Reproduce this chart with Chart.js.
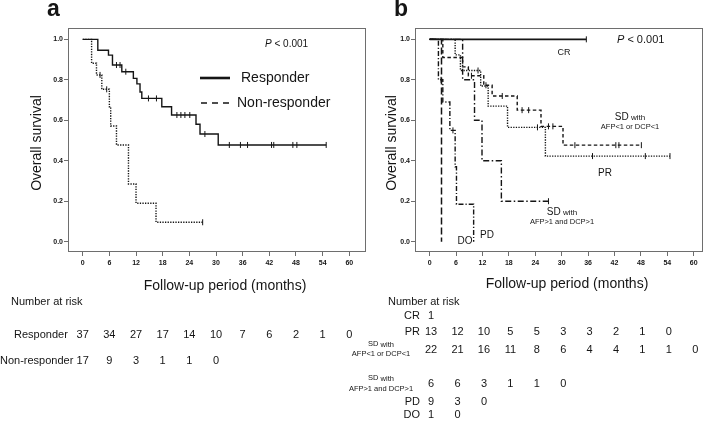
<!DOCTYPE html>
<html><head><meta charset="utf-8">
<script src="https://cdn.jsdelivr.net/npm/chart.js@4.4.1/dist/chart.umd.min.js"></script>
<style>
html,body{margin:0;padding:0;background:#fff;width:707px;height:431px;overflow:hidden;}
canvas{position:absolute;left:0;top:0;}
</style></head><body>
<canvas id="ca" width="707" height="431"></canvas>
<canvas id="cb" width="707" height="431"></canvas>
<script>
// ---------- data ----------
const tickMonths = [0, 6, 12, 18, 24, 30, 36, 42, 48, 54, 60];
const survTicks = [0, 0.2, 0.4, 0.6, 0.8, 1.0];

// Panel a
const respT = [0, 3.4, 5.8, 6.7, 8.8, 11.4, 12.2, 12.9, 13.3, 17.8, 20.0, 25.5, 26.4, 30.5, 54.8];
const respS = [1, 0.946, 0.922, 0.873, 0.84, 0.807, 0.78, 0.74, 0.708, 0.667, 0.626, 0.58, 0.532, 0.478, 0.478];
const respCens = [7.6, 8.4, 9.7, 14.8, 16.6, 21.2, 22.1, 23.0, 24.1, 27.5, 33, 35.5, 37.1, 42.5, 43, 47.3, 48.2, 54.8];
const nonT = [0, 2.0, 3.1, 4.3, 6.0, 6.3, 7.6, 10.3, 12.0, 16.5, 27.0];
const nonS = [1, 0.882, 0.824, 0.753, 0.667, 0.572, 0.478, 0.285, 0.19, 0.096, 0.096];
const nonCens = [3.9, 5.4, 27.0];

// Panel b
const crT = [0, 35.6];
const crS = [1, 1];
const crCens = [35.6];
const prT = [0, 5.8, 7.0, 11.6, 13.3, 17.7, 26.3, 54.6];
const prS = [1, 0.923, 0.846, 0.769, 0.67, 0.565, 0.423, 0.423];
const prCens = [11.0, 24.5, 37, 49, 54.6];
const sdLowT = [0, 3.0, 7.5, 8.8, 12.3, 14.2, 19.9, 25.3, 30.3, 48.1];
const sdLowS = [1, 0.91, 0.864, 0.82, 0.773, 0.72, 0.65, 0.57, 0.477, 0.477];
const sdLowCens = [9.5, 12.8, 16.5, 21, 22.5, 27, 28, 33, 42.3, 43, 48.1];
const sdHighT = [0, 7.5, 10.2, 11.9, 16.3, 27.0];
const sdHighS = [1, 0.8, 0.6, 0.4, 0.2, 0.2];
const sdHighCens = [27.0];
const pdT = [0, 2.0, 3.0, 4.6, 5.8, 6.1, 10.0];
const pdS = [1, 0.8, 0.69, 0.55, 0.37, 0.185, 0];
const pdCens = [2.6, 5.3];
const doT = [0, 2.7];
const doS = [1, 0];

// Numbers at risk
const riskResponder = [37, 34, 27, 17, 14, 10, 7, 6, 2, 1, 0];
const riskNonResponder = [17, 9, 3, 1, 1, 0];
const riskCR = [1];
const riskPR = [13, 12, 10, 5, 5, 3, 3, 2, 1, 0];
const riskSDLow = [22, 21, 16, 11, 8, 6, 4, 4, 1, 1, 0];
const riskSDHigh = [6, 6, 3, 1, 1, 0];
const riskPD = [9, 3, 0];
const riskDO = [1, 0];

// ---------- helpers ----------
const F = "'Liberation Sans', Arial, Helvetica, sans-serif";
const INK = '#151515';
const FRAME = '#6e6e6e';

function curve(t, s) { return t.map((v, i) => ({x: v, y: s[i]})); }
function censPts(t, s, c) {
  return c.map(ct => {
    let k = 0;
    for (let i = 0; i < t.length; i++) if (t[i] <= ct) k = i;
    return {x: ct, y: s[k]};
  });
}
function lineDs(t, s, dash, w) {
  return {data: curve(t, s), stepped: true, borderColor: INK, borderWidth: w || 1.4,
    borderDash: dash || [], pointRadius: 0, fill: false, tension: 0};
}
function censDs(t, s, c) {
  return {data: censPts(t, s, c), showLine: false, pointStyle: 'line', rotation: 90,
    pointRadius: 3, borderColor: INK, borderWidth: 1, pointHoverRadius: 0};
}
function text(ctx, s, x, y, size, align, opt) {
  opt = opt || {};
  ctx.save();
  ctx.fillStyle = INK;
  ctx.font = (opt.style ? opt.style + ' ' : '') + (opt.weight ? opt.weight + ' ' : '') + size + 'px ' + F;
  ctx.textAlign = align || 'left';
  ctx.textBaseline = opt.baseline || 'middle';
  ctx.fillText(s, x, y);
  ctx.restore();
}
function pval(ctx, x, y, size) {
  ctx.save();
  ctx.fillStyle = INK; ctx.textBaseline = 'middle'; ctx.textAlign = 'left';
  ctx.font = 'italic ' + size + 'px ' + F;
  ctx.fillText('P', x, y);
  const w = ctx.measureText('P').width;
  ctx.font = size + 'px ' + F;
  ctx.fillText(' < 0.001', x + w, y);
  ctx.restore();
}
function sdWith(ctx, cx, y, big, small) {
  ctx.save();
  ctx.fillStyle = INK; ctx.textBaseline = 'middle'; ctx.textAlign = 'left';
  ctx.font = big + 'px ' + F; const w1 = ctx.measureText('SD').width;
  ctx.font = small + 'px ' + F; const w2 = ctx.measureText(' with').width;
  const x0 = cx - (w1 + w2) / 2;
  ctx.font = big + 'px ' + F; ctx.fillText('SD', x0, y);
  ctx.font = small + 'px ' + F; ctx.fillText(' with', x0 + w1, y + 0.5);
  ctx.restore();
}
function rotText(ctx, s, x, y, size) {
  ctx.save();
  ctx.translate(x, y); ctx.rotate(-Math.PI / 2);
  ctx.fillStyle = INK; ctx.font = size + 'px ' + F;
  ctx.textAlign = 'center'; ctx.textBaseline = 'middle';
  ctx.fillText(s, 0, 0);
  ctx.restore();
}
function riskRow(ctx, chart, vals, y, dx) {
  const xs = chart.scales.x;
  vals.forEach((v, i) => text(ctx, String(v), xs.getPixelForValue(tickMonths[i]) + (dx || 0), y, 11, 'center'));
}

function makeChart(id, datasets, xmin, xmax, padding, yWidth, extra) {
  return new Chart(document.getElementById(id), {
    type: 'line',
    data: {datasets: datasets},
    options: {
      responsive: false, animation: false, devicePixelRatio: 1,
      layout: {padding: padding},
      plugins: {legend: {display: false}, tooltip: {enabled: false}},
      scales: {
        x: {type: 'linear', min: xmin, max: xmax,
          afterBuildTicks: s => { s.ticks = tickMonths.map(v => ({value: v})); },
          afterFit: s => { s.height = 20; },
          border: {display: false},
          grid: {drawOnChartArea: false, drawTicks: true, tickLength: 4, color: FRAME, tickColor: FRAME},
          ticks: {padding: 3, color: INK, font: {family: F, size: 7, weight: 'bold'}, maxRotation: 0,
            callback: v => String(v)}},
        y: {type: 'linear', min: -0.051, max: 1.056,
          afterBuildTicks: s => { s.ticks = survTicks.map(v => ({value: v})); },
          afterFit: s => { s.width = yWidth; },
          border: {display: false},
          grid: {drawOnChartArea: false, drawTicks: true, tickLength: 4, color: FRAME, tickColor: FRAME},
          ticks: {padding: 1, color: INK, font: {family: F, size: 7, weight: 'bold'},
            callback: v => Number(v).toFixed(1)}}
      }
    },
    plugins: [{
      id: 'frameAndText',
      afterDraw: chart => {
        const ctx = chart.ctx, a = chart.chartArea;
        ctx.save();
        ctx.strokeStyle = FRAME; ctx.lineWidth = 1;
        ctx.strokeRect(Math.round(a.left) + 0.5, Math.round(a.top) + 0.5,
          Math.round(a.right - a.left) - 1, Math.round(a.bottom - a.top) - 1);
        ctx.restore();
        extra(ctx, chart);
      }
    }]
  });
}

// ---------- panel a ----------
makeChart('ca', [
  lineDs(respT, respS, [], 1.4),
  censDs(respT, respS, respCens),
  lineDs(nonT, nonS, [1.3, 1.3], 1.4),
  censDs(nonT, nonS, nonCens)
], -3.31, 63.76, {top: 28, left: 0, right: 341, bottom: 159}, 68, (ctx, chart) => {
  text(ctx, 'a', 47, 16, 23, 'left', {weight: 'bold', baseline: 'alphabetic'});
  pval(ctx, 265, 44, 10);
  // legend
  ctx.save();
  ctx.strokeStyle = INK; ctx.lineWidth = 2.6;
  ctx.beginPath(); ctx.moveTo(200, 78); ctx.lineTo(230, 78); ctx.stroke();
  ctx.lineWidth = 1.5; ctx.setLineDash([6, 5]);
  ctx.beginPath(); ctx.moveTo(201, 103); ctx.lineTo(230, 103); ctx.stroke();
  ctx.restore();
  text(ctx, 'Responder', 241, 78, 14);
  text(ctx, 'Non-responder', 237, 103, 14);
  rotText(ctx, 'Overall survival', 37, 143, 14);
  text(ctx, 'Follow-up period (months)', 225, 286, 14, 'center');
  text(ctx, 'Number at risk', 11, 302, 11);
  text(ctx, 'Responder', 14, 335, 11);
  riskRow(ctx, chart, riskResponder, 335);
  text(ctx, 'Non-responder', 0, 361, 11);
  riskRow(ctx, chart, riskNonResponder, 361);
});

// ---------- panel b ----------
makeChart('cb', [
  lineDs(crT, crS, [], 1.6),
  censDs(crT, crS, crCens),
  lineDs(prT, prS, [1.3, 1.3], 1.4),
  censDs(prT, prS, prCens),
  lineDs(sdLowT, sdLowS, [3.5, 2.5], 1.4),
  censDs(sdLowT, sdLowS, sdLowCens),
  lineDs(sdHighT, sdHighS, [6, 2.5, 1.5, 2.5], 1.4),
  censDs(sdHighT, sdHighS, sdHighCens),
  lineDs(pdT, pdS, [5, 2, 1.2, 2], 1.4),
  censDs(pdT, pdS, pdCens),
  lineDs(doT, doS, [7, 3], 1.5)
], -3.32, 62.1, {top: 28, left: 375, right: 2, bottom: 159}, 40, (ctx, chart) => {
  text(ctx, 'b', 394, 16, 23, 'left', {weight: 'bold', baseline: 'alphabetic'});
  pval(ctx, 617, 40, 11);
  text(ctx, 'CR', 564, 53, 9, 'center');
  sdWith(ctx, 630, 117, 10, 8);
  text(ctx, 'AFP<1 or DCP<1', 630, 127, 7.5, 'center');
  text(ctx, 'PR', 605, 173, 10, 'center');
  sdWith(ctx, 562, 212, 10, 8);
  text(ctx, 'AFP>1 and DCP>1', 562, 222, 7.5, 'center');
  text(ctx, 'DO', 465, 241, 10, 'center');
  text(ctx, 'PD', 487, 235, 10, 'center');
  rotText(ctx, 'Overall survival', 392, 143, 14);
  text(ctx, 'Follow-up period (months)', 567, 284, 14, 'center');
  text(ctx, 'Number at risk', 388, 302, 11);
  text(ctx, 'CR', 420, 316, 11, 'right');
  riskRow(ctx, chart, riskCR, 316, 1.5);
  text(ctx, 'PR', 420, 332, 11, 'right');
  riskRow(ctx, chart, riskPR, 332, 1.5);
  sdWith(ctx, 381, 344, 7.5, 7.5);
  text(ctx, 'AFP<1 or DCP<1', 381, 354, 7.5, 'center');
  riskRow(ctx, chart, riskSDLow, 350, 1.5);
  sdWith(ctx, 381, 378, 7.5, 7.5);
  text(ctx, 'AFP>1 and DCP>1', 381, 389, 7.5, 'center');
  riskRow(ctx, chart, riskSDHigh, 384, 1.5);
  text(ctx, 'PD', 420, 402, 11, 'right');
  riskRow(ctx, chart, riskPD, 402, 1.5);
  text(ctx, 'DO', 420, 415, 11, 'right');
  riskRow(ctx, chart, riskDO, 415, 1.5);
});
</script>
</body></html>
